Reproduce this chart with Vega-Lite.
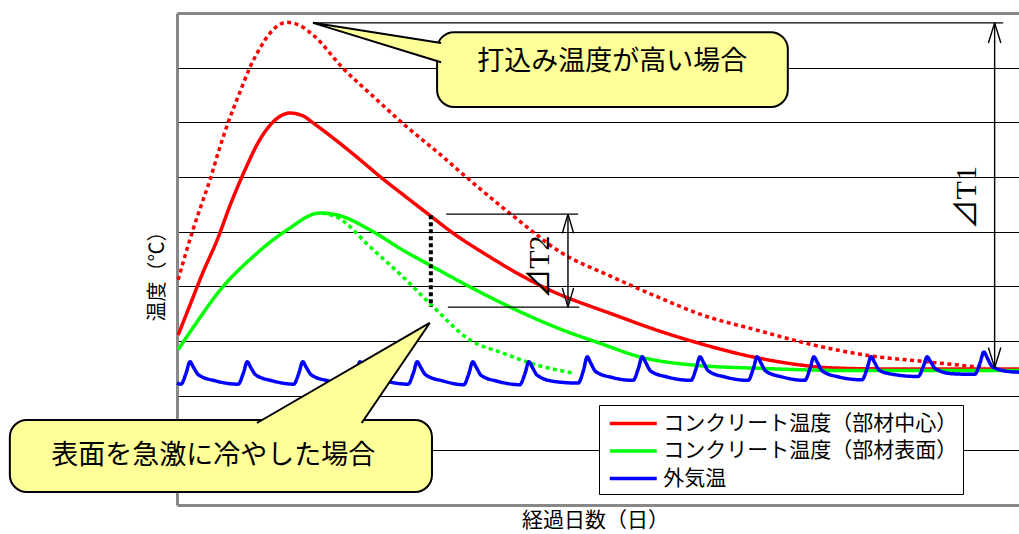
{
  "$schema": "https://vega.github.io/schema/vega-lite/v6.json",
  "width": 842,
  "height": 492,
  "autosize": "none",
  "padding": {"left": 177, "top": 13, "right": 0, "bottom": 29},
  "background": "#ffffff",
  "config": {"view": {"stroke": null}, "font": "Noto Sans CJK JP"},
  "datasets": {
    "curves": [
      {"day": 0.02, "temp": 3.11, "series": "コンクリート温度（部材中心）", "case": "標準"},
      {"day": 0.23, "temp": 3.66, "series": "コンクリート温度（部材中心）", "case": "標準"},
      {"day": 0.46, "temp": 4.26, "series": "コンクリート温度（部材中心）", "case": "標準"},
      {"day": 0.71, "temp": 4.85, "series": "コンクリート温度（部材中心）", "case": "標準"},
      {"day": 0.94, "temp": 5.49, "series": "コンクリート温度（部材中心）", "case": "標準"},
      {"day": 1.20, "temp": 6.13, "series": "コンクリート温度（部材中心）", "case": "標準"},
      {"day": 1.46, "temp": 6.68, "series": "コンクリート温度（部材中心）", "case": "標準"},
      {"day": 1.73, "temp": 7.04, "series": "コンクリート温度（部材中心）", "case": "標準"},
      {"day": 1.99, "temp": 7.17, "series": "コンクリート温度（部材中心）", "case": "標準"},
      {"day": 2.22, "temp": 7.12, "series": "コンクリート温度（部材中心）", "case": "標準"},
      {"day": 2.40, "temp": 6.99, "series": "コンクリート温度（部材中心）", "case": "標準"},
      {"day": 3.05, "temp": 6.47, "series": "コンクリート温度（部材中心）", "case": "標準"},
      {"day": 3.64, "temp": 5.96, "series": "コンクリート温度（部材中心）", "case": "標準"},
      {"day": 4.11, "temp": 5.58, "series": "コンクリート温度（部材中心）", "case": "標準"},
      {"day": 4.46, "temp": 5.30, "series": "コンクリート温度（部材中心）", "case": "標準"},
      {"day": 4.85, "temp": 4.99, "series": "コンクリート温度（部材中心）", "case": "標準"},
      {"day": 5.47, "temp": 4.57, "series": "コンクリート温度（部材中心）", "case": "標準"},
      {"day": 6.46, "temp": 3.99, "series": "コンクリート温度（部材中心）", "case": "標準"},
      {"day": 7.82, "temp": 3.44, "series": "コンクリート温度（部材中心）", "case": "標準"},
      {"day": 8.35, "temp": 3.24, "series": "コンクリート温度（部材中心）", "case": "標準"},
      {"day": 9.11, "temp": 2.99, "series": "コンクリート温度（部材中心）", "case": "標準"},
      {"day": 10.16, "temp": 2.71, "series": "コンクリート温度（部材中心）", "case": "標準"},
      {"day": 10.87, "temp": 2.58, "series": "コンクリート温度（部材中心）", "case": "標準"},
      {"day": 11.52, "temp": 2.51, "series": "コンクリート温度（部材中心）", "case": "標準"},
      {"day": 12.41, "temp": 2.49, "series": "コンクリート温度（部材中心）", "case": "標準"},
      {"day": 14.86, "temp": 2.49, "series": "コンクリート温度（部材中心）", "case": "標準"},

      {"day": 0.02, "temp": 4.12, "series": "コンクリート温度（部材中心）", "case": "打込み温度が高い場合"},
      {"day": 0.28, "temp": 5.03, "series": "コンクリート温度（部材中心）", "case": "打込み温度が高い場合"},
      {"day": 0.46, "temp": 5.58, "series": "コンクリート温度（部材中心）", "case": "打込み温度が高い場合"},
      {"day": 0.58, "temp": 5.94, "series": "コンクリート温度（部材中心）", "case": "打込み温度が高い場合"},
      {"day": 0.74, "temp": 6.49, "series": "コンクリート温度（部材中心）", "case": "打込み温度が高い場合"},
      {"day": 0.90, "temp": 6.99, "series": "コンクリート温度（部材中心）", "case": "打込み温度が高い場合"},
      {"day": 1.09, "temp": 7.50, "series": "コンクリート温度（部材中心）", "case": "打込み温度が高い場合"},
      {"day": 1.29, "temp": 8.01, "series": "コンクリート温度（部材中心）", "case": "打込み温度が高い場合"},
      {"day": 1.46, "temp": 8.35, "series": "コンクリート温度（部材中心）", "case": "打込み温度が高い場合"},
      {"day": 1.64, "temp": 8.63, "series": "コンクリート温度（部材中心）", "case": "打込み温度が高い場合"},
      {"day": 1.94, "temp": 8.83, "series": "コンクリート温度（部材中心）", "case": "打込み温度が高い場合"},
      {"day": 2.17, "temp": 8.77, "series": "コンクリート温度（部材中心）", "case": "打込み温度が高い場合"},
      {"day": 2.40, "temp": 8.60, "series": "コンクリート温度（部材中心）", "case": "打込み温度が高い場合"},
      {"day": 2.93, "temp": 7.99, "series": "コンクリート温度（部材中心）", "case": "打込み温度が高い場合"},
      {"day": 3.53, "temp": 7.41, "series": "コンクリート温度（部材中心）", "case": "打込み温度が高い場合"},
      {"day": 4.02, "temp": 6.95, "series": "コンクリート温度（部材中心）", "case": "打込み温度が高い場合"},
      {"day": 4.59, "temp": 6.46, "series": "コンクリート温度（部材中心）", "case": "打込み温度が高い場合"},
      {"day": 5.17, "temp": 5.94, "series": "コンクリート温度（部材中心）", "case": "打込み温度が高い場合"},
      {"day": 6.05, "temp": 5.19, "series": "コンクリート温度（部材中心）", "case": "打込み温度が高い場合"},
      {"day": 6.76, "temp": 4.63, "series": "コンクリート温度（部材中心）", "case": "打込み温度が高い場合"},
      {"day": 7.64, "temp": 4.19, "series": "コンクリート温度（部材中心）", "case": "打込み温度が高い場合"},
      {"day": 8.52, "temp": 3.79, "series": "コンクリート温度（部材中心）", "case": "打込み温度が高い場合"},
      {"day": 9.23, "temp": 3.49, "series": "コンクリート温度（部材中心）", "case": "打込み温度が高い場合"},
      {"day": 10.23, "temp": 3.20, "series": "コンクリート温度（部材中心）", "case": "打込み温度が高い場合"},
      {"day": 11.22, "temp": 2.93, "series": "コンクリート温度（部材中心）", "case": "打込み温度が高い場合"},
      {"day": 12.23, "temp": 2.73, "series": "コンクリート温度（部材中心）", "case": "打込み温度が高い場合"},
      {"day": 13.23, "temp": 2.62, "series": "コンクリート温度（部材中心）", "case": "打込み温度が高い場合"},
      {"day": 14.26, "temp": 2.51, "series": "コンクリート温度（部材中心）", "case": "打込み温度が高い場合"},

      {"day": 0.02, "temp": 2.84, "series": "コンクリート温度（部材表面）", "case": "標準"},
      {"day": 0.32, "temp": 3.30, "series": "コンクリート温度（部材表面）", "case": "標準"},
      {"day": 0.76, "temp": 3.93, "series": "コンクリート温度（部材表面）", "case": "標準"},
      {"day": 1.34, "temp": 4.54, "series": "コンクリート温度（部材表面）", "case": "標準"},
      {"day": 1.94, "temp": 5.03, "series": "コンクリート温度（部材表面）", "case": "標準"},
      {"day": 2.52, "temp": 5.34, "series": "コンクリート温度（部材表面）", "case": "標準"},
      {"day": 2.88, "temp": 5.29, "series": "コンクリート温度（部材表面）", "case": "標準"},
      {"day": 3.41, "temp": 5.03, "series": "コンクリート温度（部材表面）", "case": "標準"},
      {"day": 3.99, "temp": 4.66, "series": "コンクリート温度（部材表面）", "case": "標準"},
      {"day": 4.46, "temp": 4.39, "series": "コンクリート温度（部材表面）", "case": "標準"},
      {"day": 5.17, "temp": 3.99, "series": "コンクリート温度（部材表面）", "case": "標準"},
      {"day": 5.88, "temp": 3.62, "series": "コンクリート温度（部材表面）", "case": "標準"},
      {"day": 6.81, "temp": 3.20, "series": "コンクリート温度（部材表面）", "case": "標準"},
      {"day": 7.46, "temp": 2.96, "series": "コンクリート温度（部材表面）", "case": "標準"},
      {"day": 8.17, "temp": 2.71, "series": "コンクリート温度（部材表面）", "case": "標準"},
      {"day": 9.11, "temp": 2.56, "series": "コンクリート温度（部材表面）", "case": "標準"},
      {"day": 10.29, "temp": 2.50, "series": "コンクリート温度（部材表面）", "case": "標準"},
      {"day": 11.88, "temp": 2.46, "series": "コンクリート温度（部材表面）", "case": "標準"},
      {"day": 14.86, "temp": 2.46, "series": "コンクリート温度（部材表面）", "case": "標準"},

      {"day": 2.56, "temp": 5.34, "series": "コンクリート温度（部材表面）", "case": "表面を急激に冷やした場合"},
      {"day": 2.82, "temp": 5.27, "series": "コンクリート温度（部材表面）", "case": "表面を急激に冷やした場合"},
      {"day": 3.41, "temp": 4.72, "series": "コンクリート温度（部材表面）", "case": "表面を急激に冷やした場合"},
      {"day": 3.99, "temp": 4.17, "series": "コンクリート温度（部材表面）", "case": "表面を急激に冷やした場合"},
      {"day": 4.46, "temp": 3.69, "series": "コンクリート温度（部材表面）", "case": "表面を急激に冷やした場合"},
      {"day": 5.17, "temp": 3.02, "series": "コンクリート温度（部材表面）", "case": "表面を急激に冷やした場合"},
      {"day": 5.75, "temp": 2.78, "series": "コンクリート温度（部材表面）", "case": "表面を急激に冷やした場合"},
      {"day": 6.35, "temp": 2.56, "series": "コンクリート温度（部材表面）", "case": "表面を急激に冷やした場合"},
      {"day": 7.02, "temp": 2.41, "series": "コンクリート温度（部材表面）", "case": "表面を急激に冷やした場合"},

      {"day": 0.00, "temp": 2.23, "series": "外気温", "case": "標準"},
      {"day": 0.07, "temp": 2.21, "series": "外気温", "case": "標準"},
      {"day": 0.16, "temp": 2.41, "series": "外気温", "case": "標準"},
      {"day": 0.23, "temp": 2.62, "series": "外気温", "case": "標準"},
      {"day": 0.29, "temp": 2.52, "series": "外気温", "case": "標準"},
      {"day": 0.38, "temp": 2.38, "series": "外気温", "case": "標準"},
      {"day": 0.68, "temp": 2.27, "series": "外気温", "case": "標準"},
      {"day": 1.08, "temp": 2.21, "series": "外気温", "case": "標準"},
      {"day": 1.17, "temp": 2.41, "series": "外気温", "case": "標準"},
      {"day": 1.24, "temp": 2.62, "series": "外気温", "case": "標準"},
      {"day": 1.30, "temp": 2.52, "series": "外気温", "case": "標準"},
      {"day": 1.39, "temp": 2.38, "series": "外気温", "case": "標準"},
      {"day": 1.69, "temp": 2.27, "series": "外気温", "case": "標準"},
      {"day": 2.06, "temp": 2.21, "series": "外気温", "case": "標準"},
      {"day": 2.15, "temp": 2.41, "series": "外気温", "case": "標準"},
      {"day": 2.22, "temp": 2.62, "series": "外気温", "case": "標準"},
      {"day": 2.28, "temp": 2.52, "series": "外気温", "case": "標準"},
      {"day": 2.37, "temp": 2.38, "series": "外気温", "case": "標準"},
      {"day": 2.67, "temp": 2.27, "series": "外気温", "case": "標準"},
      {"day": 3.07, "temp": 2.21, "series": "外気温", "case": "標準"},
      {"day": 3.16, "temp": 2.41, "series": "外気温", "case": "標準"},
      {"day": 3.23, "temp": 2.62, "series": "外気温", "case": "標準"},
      {"day": 3.29, "temp": 2.52, "series": "外気温", "case": "標準"},
      {"day": 3.38, "temp": 2.38, "series": "外気温", "case": "標準"},
      {"day": 3.68, "temp": 2.27, "series": "外気温", "case": "標準"},
      {"day": 4.08, "temp": 2.21, "series": "外気温", "case": "標準"},
      {"day": 4.17, "temp": 2.41, "series": "外気温", "case": "標準"},
      {"day": 4.24, "temp": 2.62, "series": "外気温", "case": "標準"},
      {"day": 4.30, "temp": 2.52, "series": "外気温", "case": "標準"},
      {"day": 4.39, "temp": 2.38, "series": "外気温", "case": "標準"},
      {"day": 4.69, "temp": 2.27, "series": "外気温", "case": "標準"},
      {"day": 5.06, "temp": 2.20, "series": "外気温", "case": "標準"},
      {"day": 5.15, "temp": 2.40, "series": "外気温", "case": "標準"},
      {"day": 5.22, "temp": 2.62, "series": "外気温", "case": "標準"},
      {"day": 5.28, "temp": 2.52, "series": "外気温", "case": "標準"},
      {"day": 5.37, "temp": 2.37, "series": "外気温", "case": "標準"},
      {"day": 5.67, "temp": 2.26, "series": "外気温", "case": "標準"},
      {"day": 6.05, "temp": 2.20, "series": "外気温", "case": "標準"},
      {"day": 6.14, "temp": 2.40, "series": "外気温", "case": "標準"},
      {"day": 6.21, "temp": 2.62, "series": "外気温", "case": "標準"},
      {"day": 6.27, "temp": 2.52, "series": "外気温", "case": "標準"},
      {"day": 6.36, "temp": 2.37, "series": "外気温", "case": "標準"},
      {"day": 6.66, "temp": 2.26, "series": "外気温", "case": "標準"},
      {"day": 7.08, "temp": 2.23, "series": "外気温", "case": "標準"},
      {"day": 7.17, "temp": 2.45, "series": "外気温", "case": "標準"},
      {"day": 7.24, "temp": 2.71, "series": "外気温", "case": "標準"},
      {"day": 7.30, "temp": 2.60, "series": "外気温", "case": "標準"},
      {"day": 7.39, "temp": 2.44, "series": "外気温", "case": "標準"},
      {"day": 7.69, "temp": 2.33, "series": "外気温", "case": "標準"},
      {"day": 8.05, "temp": 2.28, "series": "外気温", "case": "標準"},
      {"day": 8.14, "temp": 2.49, "series": "外気温", "case": "標準"},
      {"day": 8.21, "temp": 2.71, "series": "外気温", "case": "標準"},
      {"day": 8.27, "temp": 2.61, "series": "外気温", "case": "標準"},
      {"day": 8.36, "temp": 2.45, "series": "外気温", "case": "標準"},
      {"day": 8.66, "temp": 2.34, "series": "外気温", "case": "標準"},
      {"day": 9.07, "temp": 2.28, "series": "外気温", "case": "標準"},
      {"day": 9.16, "temp": 2.49, "series": "外気温", "case": "標準"},
      {"day": 9.23, "temp": 2.71, "series": "外気温", "case": "標準"},
      {"day": 9.29, "temp": 2.61, "series": "外気温", "case": "標準"},
      {"day": 9.38, "temp": 2.45, "series": "外気温", "case": "標準"},
      {"day": 9.68, "temp": 2.34, "series": "外気温", "case": "標準"},
      {"day": 10.08, "temp": 2.28, "series": "外気温", "case": "標準"},
      {"day": 10.17, "temp": 2.49, "series": "外気温", "case": "標準"},
      {"day": 10.24, "temp": 2.71, "series": "外気温", "case": "標準"},
      {"day": 10.30, "temp": 2.61, "series": "外気温", "case": "標準"},
      {"day": 10.39, "temp": 2.45, "series": "外気温", "case": "標準"},
      {"day": 10.69, "temp": 2.34, "series": "外気温", "case": "標準"},
      {"day": 11.08, "temp": 2.28, "series": "外気温", "case": "標準"},
      {"day": 11.17, "temp": 2.49, "series": "外気温", "case": "標準"},
      {"day": 11.24, "temp": 2.71, "series": "外気温", "case": "標準"},
      {"day": 11.30, "temp": 2.61, "series": "外気温", "case": "標準"},
      {"day": 11.39, "temp": 2.45, "series": "外気温", "case": "標準"},
      {"day": 11.69, "temp": 2.34, "series": "外気温", "case": "標準"},
      {"day": 12.09, "temp": 2.29, "series": "外気温", "case": "標準"},
      {"day": 12.18, "temp": 2.50, "series": "外気温", "case": "標準"},
      {"day": 12.25, "temp": 2.71, "series": "外気温", "case": "標準"},
      {"day": 12.31, "temp": 2.61, "series": "外気温", "case": "標準"},
      {"day": 12.40, "temp": 2.46, "series": "外気温", "case": "標準"},
      {"day": 12.70, "temp": 2.38, "series": "外気温", "case": "標準"},
      {"day": 13.08, "temp": 2.35, "series": "外気温", "case": "標準"},
      {"day": 13.17, "temp": 2.53, "series": "外気温", "case": "標準"},
      {"day": 13.24, "temp": 2.71, "series": "外気温", "case": "標準"},
      {"day": 13.30, "temp": 2.62, "series": "外気温", "case": "標準"},
      {"day": 13.39, "temp": 2.49, "series": "外気温", "case": "標準"},
      {"day": 13.69, "temp": 2.40, "series": "外気温", "case": "標準"},
      {"day": 14.08, "temp": 2.39, "series": "外気温", "case": "標準"},
      {"day": 14.17, "temp": 2.59, "series": "外気温", "case": "標準"},
      {"day": 14.24, "temp": 2.80, "series": "外気温", "case": "標準"},
      {"day": 14.30, "temp": 2.69, "series": "外気温", "case": "標準"},
      {"day": 14.39, "temp": 2.53, "series": "外気温", "case": "標準"},
      {"day": 14.69, "temp": 2.44, "series": "外気温", "case": "標準"},
      {"day": 14.86, "temp": 2.43, "series": "外気温", "case": "標準"}
    ],
    "segments": [
      {"day": 2.40, "temp": 8.82, "day2": 14.58, "temp2": 8.82},
      {"day": 14.43, "temp": 8.82, "day2": 14.43, "temp2": 2.51},
      {"day": 14.43, "temp": 8.82, "day2": 14.32, "temp2": 8.45},
      {"day": 14.43, "temp": 8.82, "day2": 14.54, "temp2": 8.45},
      {"day": 14.43, "temp": 2.51, "day2": 14.32, "temp2": 2.88},
      {"day": 14.43, "temp": 2.51, "day2": 14.54, "temp2": 2.88},
      {"day": 4.75, "temp": 5.32, "day2": 7.08, "temp2": 5.32},
      {"day": 4.78, "temp": 3.62, "day2": 7.10, "temp2": 3.62},
      {"day": 6.90, "temp": 5.32, "day2": 6.90, "temp2": 3.62},
      {"day": 6.90, "temp": 5.32, "day2": 6.80, "temp2": 4.97},
      {"day": 6.90, "temp": 5.32, "day2": 7.00, "temp2": 4.97},
      {"day": 6.90, "temp": 3.62, "day2": 6.80, "temp2": 3.97},
      {"day": 6.90, "temp": 3.62, "day2": 7.00, "temp2": 3.97}
    ],
    "marker": [
      {"day": 4.48, "temp": 5.30, "day2": 4.48, "temp2": 3.62}
    ],
    "callouts": [
      {"label": "打込み温度が高い場合", "day": 4.59, "day2": 10.78, "temp": 8.65, "temp2": 7.28},
      {"label": "表面を急激に冷やした場合", "day": -2.95, "day2": 4.50, "temp": 1.555, "temp2": 0.238}
    ],
    "tails": [
      {"callout": "高温", "k": 1, "day": 4.66, "temp": 8.45},
      {"callout": "高温", "k": 2, "day": 2.40, "temp": 8.82},
      {"callout": "高温", "k": 3, "day": 4.66, "temp": 8.10},
      {"callout": "急冷", "k": 1, "day": 1.41, "temp": 1.50},
      {"callout": "急冷", "k": 2, "day": 4.46, "temp": 3.33},
      {"callout": "急冷", "k": 3, "day": 3.26, "temp": 1.50}
    ],
    "calloutText": [
      {"label": "打込み温度が高い場合", "day": 7.68, "temp": 8.10},
      {"label": "表面を急激に冷やした場合", "day": 0.64, "temp": 0.90}
    ],
    "deltas": [
      {"label": "⊿T1", "day": 13.95, "temp": 5.62},
      {"label": "⊿T2", "day": 6.41, "temp": 4.35}
    ]
  },
  "encoding": {
    "x": {
      "field": "day", "type": "quantitative",
      "scale": {"domain": [0, 14.86], "nice": false, "zero": false},
      "axis": {
        "title": "経過日数（日）", "labels": false, "ticks": false, "grid": false,
        "domainColor": "#888888", "domainWidth": 3,
        "titleFont": "Noto Sans CJK JP", "titleFontSize": 21, "titleFontWeight": "normal", "titleColor": "#000",
        "titleX": 418, "titleY": 15, "titleBaseline": "middle", "titleAlign": "center"
      }
    },
    "y": {
      "field": "temp", "type": "quantitative",
      "scale": {"domain": [0, 9], "nice": false, "zero": false},
      "axis": {
        "title": "温度（℃）", "values": [1, 2, 3, 4, 5, 6, 7, 8, 9],
        "labels": false, "ticks": false, "grid": true,
        "domainColor": "#888888", "domainWidth": 3,
        "gridColor": {"condition": {"test": "datum.value === 9", "value": "#888888"}, "value": "#000000"},
        "gridWidth": {"condition": {"test": "datum.value === 9", "value": 3}, "value": 1},
        "gridOpacity": 1,
        "titleFont": "Noto Sans CJK JP", "titleFontSize": 20, "titleFontWeight": "normal", "titleColor": "#000",
        "titleX": -20, "titleY": 258, "titleAngle": 270, "titleBaseline": "middle", "titleAlign": "center"
      }
    }
  },
  "layer": [
    {
      "data": {"name": "curves"},
      "mark": {"type": "line", "strokeWidth": 3.5, "interpolate": "monotone", "strokeCap": "butt", "clip": false},
      "encoding": {
        "color": {
          "field": "series", "type": "nominal",
          "scale": {"domain": ["コンクリート温度（部材中心）", "コンクリート温度（部材表面）", "外気温"], "range": ["#ff0000", "#00ff00", "#0000ff"]},
          "legend": {
            "orient": "none", "legendX": 422, "legendY": 392, "direction": "vertical", "title": null,
            "symbolType": "M-2,0H2", "symbolSize": 552, "symbolStrokeWidth": 3.5,
            "symbolOffset": 15.75,
            "labelFont": "Noto Sans CJK JP", "labelFontSize": 21, "labelColor": "#000", "labelLimit": 600,
            "labelOffset": 16.5, "padding": 5, "rowPadding": 3.5,
            "strokeColor": "#000000", "fillColor": "#ffffff"
          }
        },
        "strokeDash": {
          "field": "case", "type": "nominal",
          "scale": {"domain": ["標準", "打込み温度が高い場合", "表面を急激に冷やした場合"], "range": [[1, 0], [4, 3.5], [4, 3.5]]},
          "legend": null
        }
      }
    },
    {
      "data": {"name": "segments"},
      "mark": {"type": "rule", "color": "#000000", "strokeWidth": 1.4, "clip": false},
      "encoding": {"x2": {"field": "day2"}, "y2": {"field": "temp2"}}
    },
    {
      "data": {"name": "marker"},
      "mark": {"type": "rule", "color": "#000000", "strokeWidth": 4, "strokeDash": [4, 3], "clip": false},
      "encoding": {"x2": {"field": "day2"}, "y2": {"field": "temp2"}}
    },
    {
      "data": {"name": "callouts"},
      "mark": {"type": "rect", "fill": "#ffff99", "stroke": "#000000", "strokeWidth": 2, "cornerRadius": 17, "clip": false},
      "encoding": {"x2": {"field": "day2"}, "y2": {"field": "temp2"}}
    },
    {
      "data": {"name": "tails"},
      "mark": {"type": "line", "fill": "#ffff99", "stroke": "#000000", "strokeWidth": 2, "interpolate": "linear", "clip": false},
      "encoding": {"detail": {"field": "callout"}, "order": {"field": "k", "type": "quantitative"}}
    },
    {
      "data": {"name": "calloutText"},
      "mark": {"type": "text", "font": "Noto Sans CJK JP", "fontSize": 27, "color": "#000000", "align": "center", "baseline": "middle", "clip": false},
      "encoding": {"text": {"field": "label"}}
    },
    {
      "data": {"name": "deltas"},
      "mark": {"type": "text", "font": "Liberation Serif, Noto Sans CJK JP", "fontSize": 30, "color": "#000000", "align": "center", "baseline": "middle", "angle": 270, "clip": false},
      "encoding": {"text": {"field": "label"}}
    }
  ]
}
